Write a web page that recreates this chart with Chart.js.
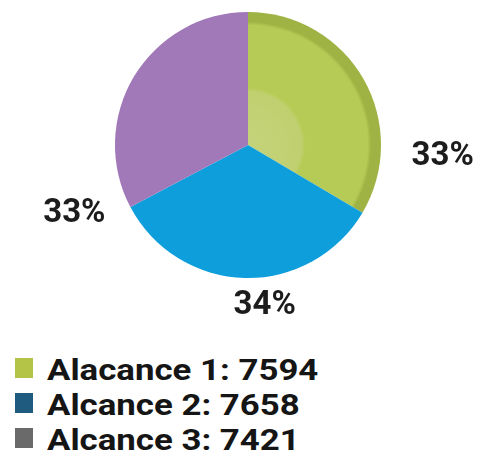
<!DOCTYPE html>
<html>
<head>
<meta charset="utf-8">
<script src="https://cdn.jsdelivr.net/npm/chart.js@4.4.1/dist/chart.umd.min.js"></script>
<style>
  html, body { margin: 0; padding: 0; background: #fff; }
  body { width: 485px; height: 460px; position: relative; overflow: hidden; font-family: Roboto, "Noto Sans", sans-serif; }
  #wrap { position: absolute; left: 0; top: 0; width: 485px; height: 330px; }
  #legend { position: absolute; left: 15px; top: 352px; }
  .leg-row { display: flex; align-items: center; height: 35px; }
  .leg-box { width: 18px; height: 20px; margin-right: 14px; margin-top: -4px; }
  .leg-text { font-size: 30px; font-weight: 700; color: #151515; display: inline-block; transform: scaleX(1.16); transform-origin: left center; }
</style>
</head>
<body>
<div id="wrap"><canvas id="pie"></canvas></div>
<div id="legend"></div>
<script>
// ─── Data ───────────────────────────────
const labels = ["Alacance 1", "Alcance 2", "Alcance 3"];
const values = [7594, 7658, 7421];
const sliceColors = ["#b6cb55", "#0e9edb", "#a178b8"];
const legendColors = ["#b3c447", "#1f5b7e", "#6a6a6a"];

const RADIUS = 133;

// ─── Outside percent labels ─────────────
const pctLabels = {
  id: "pctLabels",
  afterDatasetsDraw(chart, args, opts) {
    const { ctx } = chart;
    const meta = chart.getDatasetMeta(0);
    const total = values.reduce((a, b) => a + b, 0);
    ctx.save();
    ctx.font = "bold 33px Roboto, sans-serif";
    ctx.fillStyle = "#1c1c1c";
    ctx.textAlign = "center";
    ctx.textBaseline = "middle";
    meta.data.forEach((arc, i) => {
      const p = opts.place[i];
      const a = (p.angle - 90) * Math.PI / 180;
      const x = arc.x + Math.cos(a) * p.dist;
      const y = arc.y + Math.sin(a) * p.dist;
      ctx.fillText(Math.round(values[i] / total * 100) + "%", x, y + 2);
    });
    ctx.restore();
  },
};

// green slice has a lighter core and a darker rim
function greenFill(c) {
  const area = c.chart.chartArea;
  if (!area) return sliceColors[0];
  const cx = (area.left + area.right) / 2;
  const cy = (area.top + area.bottom) / 2;
  const g = c.chart.ctx.createRadialGradient(cx, cy, 0, cx, cy, RADIUS);
  g.addColorStop(0, "#c4d37a");
  g.addColorStop(0.40, "#c0d070");
  g.addColorStop(0.43, "#b6cb55");
  g.addColorStop(0.90, "#b6cb55");
  g.addColorStop(0.925, "#9eb343");
  g.addColorStop(1, "#9eb343");
  return g;
}

new Chart(document.getElementById("pie"), {
  type: "pie",
  data: {
    labels,
    datasets: [{
      data: values,
      backgroundColor: c => c.dataIndex === 0 ? greenFill(c) : sliceColors[c.dataIndex],
      borderWidth: 0,
    }],
  },
  options: {
    responsive: true,
    maintainAspectRatio: false,
    animation: false,
    radius: RADIUS,
    layout: { padding: { left: 11, bottom: 40 } },
    plugins: {
      legend: { display: false },
      tooltip: { enabled: false },
      pctLabels: {
        place: [
          { angle: 93, dist: 195 },
          { angle: 174, dist: 160 },
          { angle: 249, dist: 186 },
        ],
      },
    },
  },
  plugins: [pctLabels],
});

// ─── Legend ─────────────────────────────
document.getElementById("legend").innerHTML = labels.map((l, i) => `
  <div class="leg-row">
    <span class="leg-box" style="background:${legendColors[i]}"></span>
    <span class="leg-text">${l}: ${values[i]}</span>
  </div>`).join("");
</script>
</body>
</html>
